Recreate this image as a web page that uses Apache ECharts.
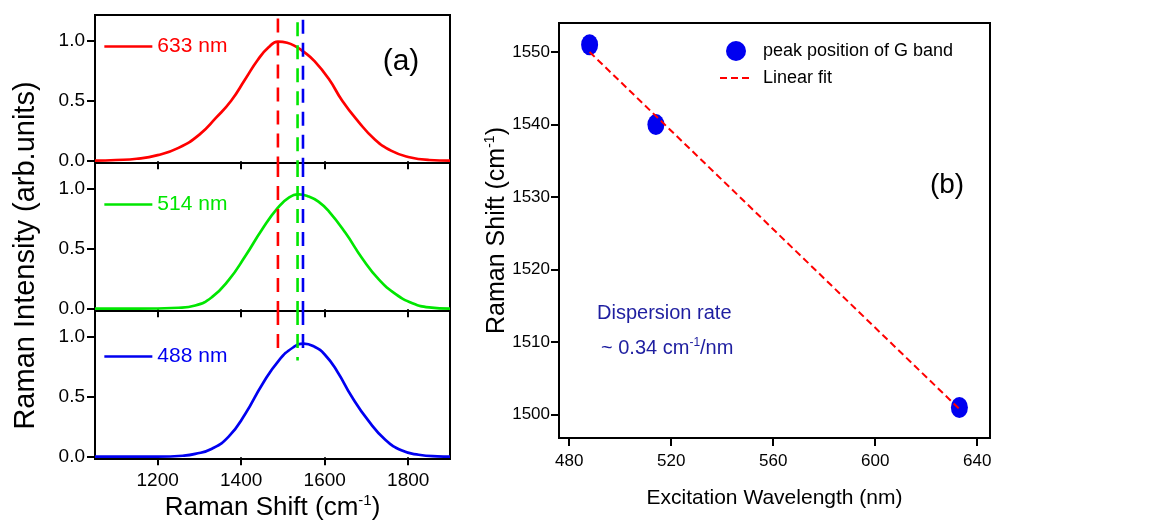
<!DOCTYPE html>
<html><head><meta charset="utf-8">
<script src="https://cdn.jsdelivr.net/npm/echarts@6/dist/echarts.min.js"></script>
<style>html,body{margin:0;padding:0;background:#fff}#c{width:1152px;height:524px}</style>
</head><body><div id="c"></div>
<script>
const FONT = '"Liberation Sans", Arial, sans-serif';

// ---- Panel (a): Raman spectra ----
const shift633 = [1050,1100,1150,1200,1250,1300,1340,1376,1410,1440,1465,1488,1510,1530,1550,1575,1610,1642,1680,1720,1760,1800,1850,1900];
const int633   = [0.005,0.01,0.02,0.05,0.11,0.22,0.36,0.50,0.68,0.84,0.94,0.99,0.98,0.95,0.905,0.83,0.68,0.50,0.33,0.18,0.085,0.035,0.01,0.005];
const shift514 = [1050,1150,1250,1290,1330,1370,1410,1450,1488,1515,1538,1560,1585,1610,1650,1690,1730,1770,1810,1850,1900];
const int514   = [0.005,0.005,0.012,0.03,0.10,0.24,0.44,0.66,0.84,0.925,0.95,0.935,0.89,0.81,0.63,0.42,0.245,0.125,0.05,0.015,0.005];
const shift488 = [1050,1200,1260,1290,1330,1370,1410,1450,1490,1525,1550,1575,1600,1630,1665,1705,1745,1785,1825,1870,1900];
const int488   = [0.005,0.005,0.012,0.027,0.07,0.17,0.36,0.6,0.8,0.91,0.94,0.915,0.85,0.71,0.5,0.3,0.145,0.055,0.02,0.007,0.005];

const laserNames = ['633 nm','514 nm','488 nm'];
const laserColors = ['#ff0000','#00e600','#0000f0'];
const peakShift = [1488, 1535, 1548];        // dashed peak markers (red, green, blue)
const markStartTop = [1.18, 1.15, 1.17];     // start of dashed markers in top panel
const markEndBottom = [0.83, 0.80, 0.83];    // end of dashed markers in bottom panel
const xTicksA = [1200,1400,1600,1800];
const yTicksA = [0, 0.5, 1.0];

// ---- Panel (b): G band dispersion ----
const wavelength = [488, 514, 633];
const gPeak = [1551, 1540, 1501];
const fitX = [488, 633];
const fitY = [1550.0, 1500.8];
const xTicksB = [480,520,560,600,640];
const yTicksB = [1500,1510,1520,1530,1540,1550];

const chart = echarts.init(document.getElementById('c'), null, {renderer:'canvas'});

const A_MIN = -0.015, A_MAX = 1.21;
const gridsA = [15, 163, 311].map(t => ({left:95, top:t, width:355, height:148, show:true, borderColor:'#000', borderWidth:2, backgroundColor:'transparent'}));
const gridB = {left:559, top:23, width:431, height:415, show:true, borderColor:'#000', borderWidth:2, backgroundColor:'transparent'};

const tickStyle = {show:true, inside:false, length:8, lineStyle:{color:'#000', width:2}};
const plain = v => String(v);

const xAxes = [0,1,2].map(i => ({
  gridIndex:i, type:'value', min:1050, max:1900,
  axisLine:{show:false}, splitLine:{show:false},
  axisTick:Object.assign({customValues:xTicksA}, tickStyle),
  axisLabel:{show:i===2, customValues:xTicksA, formatter:plain, color:'#000', fontSize:19, fontFamily:FONT, margin:12},
  name: i===2 ? '{a|Raman Shift (cm}{s|-1}{a|)}' : '',
  nameLocation:'middle', nameGap:34,
  nameTextStyle:{rich:{a:{fontSize:26, fontFamily:FONT, color:'#000', lineHeight:29},
                       s:{fontSize:15, fontFamily:FONT, color:'#000', verticalAlign:'top', lineHeight:15}}}
}));
xAxes.push({
  gridIndex:3, type:'value', min:476, max:645,
  axisLine:{show:false}, splitLine:{show:false},
  axisTick:Object.assign({customValues:xTicksB}, tickStyle),
  axisLabel:{customValues:xTicksB, formatter:plain, color:'#000', fontSize:17, fontFamily:FONT, margin:15},
  name:'Excitation Wavelength (nm)', nameLocation:'middle', nameGap:50,
  nameTextStyle:{fontSize:21, fontFamily:FONT, color:'#000'}
});

const yAxes = [0,1,2].map(i => ({
  gridIndex:i, type:'value', min:A_MIN, max:A_MAX,
  axisLine:{show:false}, splitLine:{show:false},
  axisTick:Object.assign({customValues:yTicksA}, tickStyle),
  axisLabel:{customValues:yTicksA, formatter:v=>v.toFixed(1), color:'#000', fontSize:19, fontFamily:FONT, margin:10},
  name: i===1 ? 'Raman Intensity (arb.units)' : '',
  nameLocation:'middle', nameGap:55,
  nameTextStyle:{fontSize:29, fontFamily:FONT, color:'#000', padding:[0,37,0,0]}
}));
yAxes.push({
  gridIndex:3, type:'value', min:1496.8, max:1554,
  axisLine:{show:false}, splitLine:{show:false},
  axisTick:Object.assign({customValues:yTicksB}, tickStyle),
  axisLabel:{customValues:yTicksB, formatter:plain, color:'#000', fontSize:17, fontFamily:FONT, margin:9},
  name:'{a|Raman Shift (cm}{s|-1}{a|)}', nameLocation:'middle', nameGap:48, nameMoveOverlap:false,
  nameTextStyle:{rich:{a:{fontSize:25, fontFamily:FONT, color:'#000', lineHeight:28},
                       s:{fontSize:14, fontFamily:FONT, color:'#000', verticalAlign:'top', lineHeight:14}}}
});

const zip = (xs, ys) => xs.map((x,i) => [x, ys[i]]);
const spectra = [zip(shift633,int633), zip(shift514,int514), zip(shift488,int488)];

const series = [];
spectra.forEach((d,i) => {
  series.push({type:'line', name:laserNames[i], xAxisIndex:i, yAxisIndex:i, data:d,
    symbol:'none', smooth:0.5, z:3,
    lineStyle:{color:laserColors[i], width:2.7}, itemStyle:{color:laserColors[i]}});
});
// dashed peak markers across panels
for (let p = 0; p < 3; p++) {
  for (let c = 0; c < 3; c++) {
    const yStart = p===0 ? markStartTop[c] : A_MAX;
    const yEnd = p===2 ? markEndBottom[c] : A_MIN;
    series.push({type:'line', name:'marker'+p+c, xAxisIndex:p, yAxisIndex:p,
      data:[[peakShift[c], yStart],[peakShift[c], yEnd]], symbol:'none', silent:true, z:4,
      lineStyle:{color:laserColors[c], width:2.6, type:[14,9]}});
  }
}
series.push({type:'scatter', name:'peak position of G band', xAxisIndex:3, yAxisIndex:3,
  data:zip(wavelength,gPeak), symbol:'circle', symbolSize:[17,21], z:3,
  itemStyle:{color:'#0000f0', opacity:1}});
series.push({type:'line', name:'Linear fit', xAxisIndex:3, yAxisIndex:3,
  data:zip(fitX,fitY), symbol:'none', z:5,
  lineStyle:{color:'#ff0000', width:2, type:[7,4]}, itemStyle:{color:'#ff0000'}});

const legendTops = [36, 194, 346];
const legends = laserNames.map((n,i) => ({
  data:[{name:n, textStyle:{color:laserColors[i]}, itemStyle:{opacity:0}}], left:103, top:legendTops[i], padding:0,
  itemWidth:48, itemHeight:14, selectedMode:false,
  lineStyle:{width:2.7},
  textStyle:{fontSize:21, fontFamily:FONT}
}));
legends.push({data:[{name:'peak position of G band', icon:'circle', itemStyle:{color:'#0000f0', opacity:1}},
                    {name:'Linear fit', itemStyle:{opacity:0}}],
  orient:'vertical', left:719, top:41, padding:0,
  itemWidth:32, itemHeight:20, itemGap:8, selectedMode:false,
  textStyle:{fontSize:18, fontFamily:FONT, color:'#000', padding:[0,0,0,6]}});

const navy = '#1e1ea0';
chart.setOption({
  animation:false,
  backgroundColor:'#fff',
  grid:[...gridsA, gridB],
  xAxis:xAxes, yAxis:yAxes,
  legend:legends,
  series:series,
  graphic:[
    {type:'text', x:401, y:62, style:{text:'(a)', fontSize:30, fontFamily:FONT, fill:'#000', align:'center', verticalAlign:'middle'}},
    {type:'text', x:947, y:185, style:{text:'(b)', fontSize:28, fontFamily:FONT, fill:'#000', align:'center', verticalAlign:'middle'}},
    {type:'text', x:597, y:313, style:{text:'Dispersion rate', fontSize:20, fontFamily:FONT, fill:navy, align:'left', verticalAlign:'middle'}},
    {type:'text', x:601, y:348, style:{text:'{a|~ 0.34 cm}{s|-1}{a|/nm}', align:'left', verticalAlign:'middle',
      rich:{a:{fontSize:20, fontFamily:FONT, fill:navy, lineHeight:22}, s:{fontSize:12, fontFamily:FONT, fill:navy, verticalAlign:'top', lineHeight:12}}}}
  ]
});
</script></body></html>
